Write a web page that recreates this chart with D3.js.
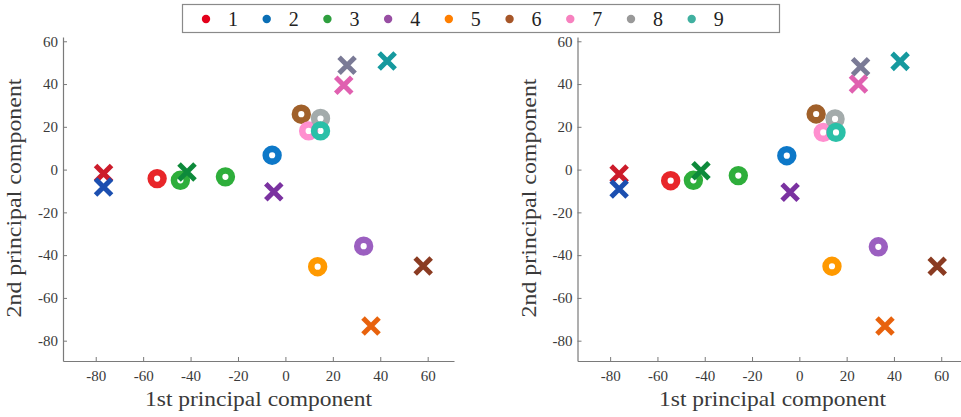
<!DOCTYPE html>
<html>
<head>
<meta charset="utf-8">
<script src="https://cdn.jsdelivr.net/npm/d3@7/dist/d3.min.js"></script>
<style>
  html, body { margin: 0; padding: 0; background: #fff; }
  svg { display: block; }
  text { font-family: "Liberation Serif", "DejaVu Serif", serif; }
</style>
</head>
<body>
<svg id="chart" width="961" height="417"></svg>
<script>
// Class labels and colours
const classes = ["1", "2", "3", "4", "5", "6", "7", "8", "9"];
const legendColors = ["#e3001b", "#0a6eb5", "#2e9f3e", "#984ea3", "#ff7f00", "#a65628", "#f781bf", "#999999", "#40b0a0"];
const ringColors   = ["#e8262b", "#0f78c8", "#2fae3b", "#9b5fc0", "#ff9900", "#a0602a", "#ff8fcf", "#a3abab", "#2cc0a8"];
const crossColors  = ["#cc1a2a", "#1a4fb0", "#118a3a", "#7a30a0", "#e8620a", "#8a3a20", "#e060b0", "#7a7a96", "#12999e"];

// Ring markers (class index for each ring)
const ringClass = [0, 1, 2, 2, 3, 4, 5, 6, 7, 8];
const leftRingX  = [-54.1, -5.6, -44.3, -25.3, 33.0, 13.6, 6.7, 9.8, 14.8, 14.8];
const leftRingY  = [-4.2, 6.7, -5.0, -3.4, -35.8, -45.4, 25.9, 18.1, 23.9, 18.1];
const rightRingX = [-54.4, -5.3, -44.8, -25.8, 33.4, 13.8, 7.1, 10.1, 15.1, 15.5];
const rightRingY = [-5.2, 6.5, -5.0, -2.8, -36.1, -45.2, 26.0, 17.4, 23.7, 17.4];

// Cross markers, one per class
const crossClass = [0, 1, 2, 3, 4, 5, 6, 7, 8];
const leftCrossX  = [-76.7, -76.7, -41.5, -4.9, 36.1, 58.1, 24.6, 26.0, 42.9];
const leftCrossY  = [-1.8, -8.1, -1.1, -10.4, -73.1, -45.1, 39.4, 48.8, 50.8];
const rightCrossX = [-76.2, -76.2, -41.6, -3.9, 36.2, 58.3, 25.0, 25.9, 42.6];
const rightCrossY = [-2.1, -9.1, -0.5, -10.6, -73.1, -45.2, 40.0, 48.1, 50.6];

// Axis ticks
const xTicks = [-80, -60, -40, -20, 0, 20, 40, 60];
const yTicks = [-80, -60, -40, -20, 0, 20, 40, 60];
const xDomain = [-93.8, 71.1];
const yDomain = [-89.5, 62];

const svg = d3.select("#chart");
const axisColor = "#7a7a7a";
const textColor = "#3a3a3a";

// Slight softening of the marker edges
const defs = svg.append("defs");
defs.append("filter").attr("id", "soft")
  .append("feGaussianBlur").attr("stdDeviation", 0.45);

const panels = [
  { xRange: [63, 454],      ringX: leftRingX,  ringY: leftRingY,  crossX: leftCrossX,  crossY: leftCrossY,  yLabelX: 21 },
  { xRange: [577.5, 967.5], ringX: rightRingX, ringY: rightRingY, crossX: rightCrossX, crossY: rightCrossY, yLabelX: 536 }
];

panels.forEach(p => {
  const x = d3.scaleLinear().domain(xDomain).range(p.xRange);
  const y = d3.scaleLinear().domain(yDomain).range([361, 37]);
  const g = svg.append("g");

  const xAxis = g.append("g").attr("transform", "translate(0,361)")
    .call(d3.axisBottom(x).tickValues(xTicks).tickFormat(d => String(d))
      .tickSizeInner(-4).tickSizeOuter(0).tickPadding(9));
  const yAxis = g.append("g").attr("transform", `translate(${p.xRange[0]},0)`)
    .call(d3.axisLeft(y).tickValues(yTicks).tickFormat(d => String(d))
      .tickSizeInner(-4).tickSizeOuter(0).tickPadding(5));
  [xAxis, yAxis].forEach(a => {
    a.select(".domain").attr("stroke", axisColor).attr("stroke-width", 1.2);
    a.selectAll(".tick line").attr("stroke", axisColor);
    a.selectAll(".tick text").attr("fill", textColor)
      .style("font-family", '"Liberation Serif", serif').style("font-size", "15px");
  });

  // Axis titles
  g.append("text")
    .attr("x", (p.xRange[0] + p.xRange[1]) / 2).attr("y", 406)
    .attr("text-anchor", "middle").attr("fill", textColor)
    .attr("textLength", 227).attr("lengthAdjust", "spacingAndGlyphs")
    .style("font-size", "22px").text("1st principal component");
  g.append("text")
    .attr("transform", `translate(${p.yLabelX},198) rotate(-90)`)
    .attr("text-anchor", "middle").attr("fill", textColor)
    .attr("textLength", 239).attr("lengthAdjust", "spacingAndGlyphs")
    .style("font-size", "22px").text("2nd principal component");

  const marks = g.append("g").attr("filter", "url(#soft)");

  // Rings
  marks.append("g").selectAll("circle").data(ringClass).join("circle")
    .attr("cx", (c, i) => x(p.ringX[i]))
    .attr("cy", (c, i) => y(p.ringY[i]))
    .attr("r", 6.4)
    .attr("fill", "none")
    .attr("stroke", c => ringColors[c])
    .attr("stroke-width", 6.6);

  // Crosses
  const s = 8;
  marks.append("g").selectAll("path").data(crossClass).join("path")
    .attr("transform", (c, i) => `translate(${x(p.crossX[i])},${y(p.crossY[i])})`)
    .attr("d", `M${-s},${-s}L${s},${s}M${-s},${s}L${s},${-s}`)
    .attr("fill", "none")
    .attr("stroke", c => crossColors[c])
    .attr("stroke-width", 5);
});

// Legend
const legend = svg.append("g");
legend.append("rect")
  .attr("x", 182.5).attr("y", 4.5).attr("width", 597).attr("height", 28)
  .attr("fill", "#fff").attr("stroke", "#8a8a8a").attr("stroke-width", 1.2);
const legendX = d3.scalePoint().domain(classes).range([206, 691.7]);
classes.forEach((c, i) => {
  legend.append("circle")
    .attr("cx", legendX(c)).attr("cy", 19).attr("r", 4.2)
    .attr("fill", legendColors[i]);
  legend.append("text")
    .attr("x", legendX(c) + 27).attr("y", 25.5)
    .attr("text-anchor", "middle").attr("fill", "#222")
    .style("font-size", "20px").text(c);
});
</script>
</body>
</html>
